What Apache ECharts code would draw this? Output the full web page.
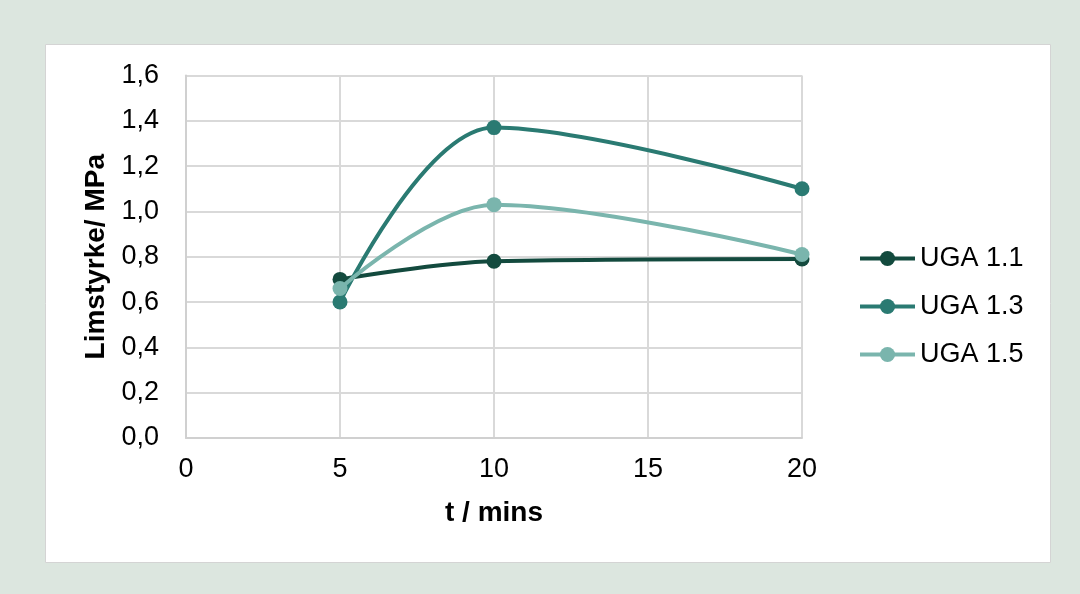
<!DOCTYPE html>
<html><head><meta charset="utf-8">
<script src="https://cdn.jsdelivr.net/npm/echarts@6/dist/echarts.min.js"></script>
<style>html,body{margin:0;padding:0;background:#dce6df;}#c{width:1080px;height:594px;}</style>
</head><body><div id="c"></div>
<script>
const xValues = [5, 10, 20];
const seriesNames = ['UGA 1.1', 'UGA 1.3', 'UGA 1.5'];
const uga11 = [0.70, 0.78, 0.79];
const uga13 = [0.60, 1.37, 1.10];
const uga15 = [0.66, 1.03, 0.81];
const colors = ['#134a3e', '#2a7a72', '#7ab5ad'];
const allData = [uga11, uga13, uga15];

const chart = echarts.init(document.getElementById('c'));
const font = 'Liberation Sans, Arial, sans-serif';
chart.setOption({
  backgroundColor: '#dce6df',
  animation: false,
  graphic: [{type:'rect', z:-10, shape:{x:45.5,y:44.5,width:1005,height:518}, style:{fill:'#ffffff', stroke:'#d4d4d4', lineWidth:1}}],
  grid: {left:186, right:278, top:75.5, bottom:156},
  legend: {
    orient:'vertical', left:858, top:245, padding:0, itemGap:21, itemWidth:55, itemHeight:19,
    lineStyle:{width:4},
    textStyle:{fontFamily:font, fontSize:27, color:'#000'},
    data: seriesNames
  },
  xAxis: {
    type:'value', min:0, max:20, interval:5,
    name:'t / mins', nameLocation:'middle', nameGap:61,
    nameTextStyle:{fontFamily:font, fontSize:28, fontWeight:'bold', color:'#000'},
    axisLine:{show:true, lineStyle:{color:'#d0d0d0', width:2}},
    axisTick:{show:false},
    axisLabel:{fontFamily:font, fontSize:27, color:'#000', margin:18},
    splitLine:{show:true, lineStyle:{color:'#d9d9d9', width:2}}
  },
  yAxis: {
    type:'value', min:0, max:1.6, interval:0.2,
    name:'Limstyrke/ MPa', nameLocation:'middle', nameGap:76,
    nameTextStyle:{fontFamily:font, fontSize:28, fontWeight:'bold', color:'#000'},
    axisLine:{show:true, lineStyle:{color:'#d0d0d0', width:2}},
    axisTick:{show:false},
    axisLabel:{fontFamily:font, fontSize:27, color:'#000', margin:27,
      formatter: v => v.toFixed(1).replace('.', ',')},
    splitLine:{show:true, lineStyle:{color:'#d9d9d9', width:2}}
  },
  series: seriesNames.map((n, i) => ({
    name:n, type:'line', smooth:0.35,
    data: xValues.map((x, j) => [x, allData[i][j]]),
    symbol:'circle', symbolSize:15,
    itemStyle:{color:colors[i]},
    lineStyle:{color:colors[i], width:4},
    z: i === 2 ? 3 : 2
  }))
});
</script></body></html>
